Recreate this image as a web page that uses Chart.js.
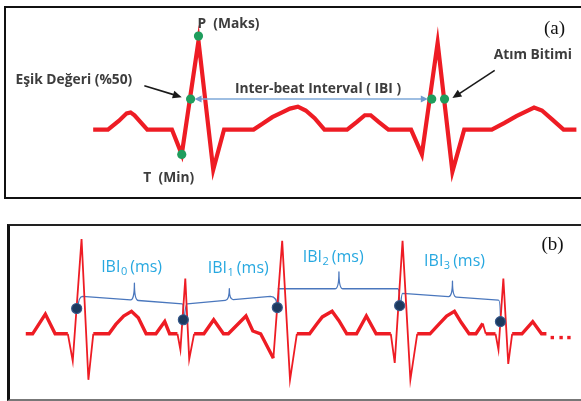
<!DOCTYPE html>
<html><head><meta charset="utf-8">
<script src="https://cdn.jsdelivr.net/npm/chart.js@4/dist/chart.umd.min.js"></script>
<style>
html,body{margin:0;padding:0;background:#fff;width:581px;height:401px;overflow:hidden;position:relative}
#frameA{position:absolute;left:4px;top:6px;width:640px;height:193px;border:2px solid #111;box-sizing:border-box}
#frameB{position:absolute;left:7px;top:224px;width:640px;height:177px;border-top:2px solid #222;border-left:3px solid #111;border-bottom:2px solid #777;box-sizing:border-box}
canvas{position:absolute;left:0}
#cA{top:0}
#cB{top:200px}
</style></head><body>
<div id="frameA"></div><div id="frameB"></div>
<canvas id="cA" width="581" height="200"></canvas>
<canvas id="cB" width="581" height="201"></canvas>
<script>
// ---------- Panel (a): one beat cycle (time units, amplitude units) ----------
const ecgA_time = [90,105,116,124,128,132,145,170,180,197,212,223,253,262,272,282,290,298,306,315,325,348,358,366,372,380,390,413,424,440,455,467,495,508,520,530,538,546,556,568,581];
const ecgA_amp  = [0,0,9,17,18,15,0,0,-26,93,-42,0,0,6,13,18,22,24,20,12,0,0,8,15,15,8,0,0,-26,91,-44,0,0,7,14,19,23,20,11,0,0];
// markers: P (max), threshold (50%), T (min), threshold of next beat, beat end
const markA_time = [197,189,180,434,447];
const markA_amp  = [98,32,-26,32,32];

// ---------- Panel (b): several beats ----------
const ecgB_time = [20,27,40,50,63,68,77,84,89,105,112,120,128,135,143,153,162,167,175,178,183,187,192,202,212,222,227,245,252,260,273,282,290,297,310,317,323,333,340,348,358,368,378,393,397,405,413,420,433,442,450,458,465,473,480,487,490,500,503,508,513,517,527,538,547,552];
const ecgB_amp  = [0,0,21,0,0,-29,101,-49,0,0,10,19,24,17,0,0,13,0,0,-17,59,-27,0,0,15,0,0,19,3,0,-26,99,-49,0,0,10,18,24,14,0,0,19,0,0,-31,99,-49,0,0,10,19,24,12,0,0,11,0,0,-17,59,-32,0,0,13,0,0];
const beatB_time = [72,181,277,402,505];
const beatB_amp  = [27,15,28,30,13];
const moreB_time = [558,567,575];
const moreB_amp  = [-4,-4,-4];
// IBI braces between consecutive beat markers
const ibiSub = ['0','1','2','3'];
const braceStart_time = [78,185,278,405];
const braceStart_amp  = [40,32,48,43];
const braceEnd_time   = [180,270,400,503];
const braceEnd_amp    = [32,40,48,36];
const braceTip_time   = [131,228,340,456];
const braceTip_amp    = [54,48,66,56];

const zip = (t,a) => t.map((v,i)=>({x:v,y:a[i]}));

// annotation layout (data coordinates)
const annA = {
  texts: [
    {s:'P  (Maks)', t:196, a:106},
    {s:'Eşik Değeri (%50)', t:11, a:48},
    {s:'Inter-beat Interval ( IBI )', t:234, a:38},
    {s:'T  (Min)', t:141, a:-55},
    {s:'Atım Bitimi', t:497, a:74}
  ],
  panel: {s:'(a)', t:548, a:100},
  ibiArrow: {t1:193, t2:430, a:32},
  arrows: [ {t1:142,a1:46,t2:180,a2:34}, {t1:498,a1:62,t2:455,a2:33} ]
};
const annB = {
  labels: [ {t:97,a:66}, {t:206,a:65}, {t:303,a:77}, {t:427,a:72} ],
  panel: {s:'(b)', t:547, a:89}
};

function baseOptions(ymin, ymax){
  return {
    responsive:false, animation:false, devicePixelRatio:1, events:[],
    layout:{padding:0},
    plugins:{legend:{display:false}, tooltip:{enabled:false}},
    scales:{
      x:{type:'linear', min:0, max:581, display:false},
      y:{type:'linear', min:ymin, max:ymax, display:false}
    }
  };
}

function arrowHead(ctx, x1,y1,x2,y2, len, half){
  const ang = Math.atan2(y2-y1, x2-x1);
  const bx = x2 - len*Math.cos(ang), by = y2 - len*Math.sin(ang);
  ctx.beginPath();
  ctx.moveTo(x2,y2);
  ctx.lineTo(bx + half*Math.sin(ang), by - half*Math.cos(ang));
  ctx.lineTo(bx - half*Math.sin(ang), by + half*Math.cos(ang));
  ctx.closePath(); ctx.fill();
}

const pluginA = {
  id:'annA',
  afterDatasetsDraw(chart){
    const ctx = chart.ctx, X = chart.scales.x, Y = chart.scales.y;
    ctx.save();
    // IBI double arrow
    const ia = annA.ibiArrow;
    const ax1 = X.getPixelForValue(ia.t1), ax2 = X.getPixelForValue(ia.t2), ay = Y.getPixelForValue(ia.a);
    ctx.strokeStyle = '#7ea8d8'; ctx.fillStyle = '#6f9ccf'; ctx.lineWidth = 1.5;
    ctx.beginPath(); ctx.moveTo(ax1+5, ay); ctx.lineTo(ax2-5, ay); ctx.stroke();
    arrowHead(ctx, ax2, ay, ax1, ay, 7, 3.5);
    arrowHead(ctx, ax1, ay, ax2, ay, 7, 3.5);
    // black pointer arrows
    ctx.strokeStyle = '#1a1a1a'; ctx.fillStyle = '#1a1a1a'; ctx.lineWidth = 1.6;
    annA.arrows.forEach(a=>{
      const x1=X.getPixelForValue(a.t1), y1=Y.getPixelForValue(a.a1), x2=X.getPixelForValue(a.t2), y2=Y.getPixelForValue(a.a2);
      const ang=Math.atan2(y2-y1,x2-x1);
      ctx.beginPath(); ctx.moveTo(x1,y1); ctx.lineTo(x2-6*Math.cos(ang), y2-6*Math.sin(ang)); ctx.stroke();
      arrowHead(ctx, x1,y1,x2,y2, 9, 4);
    });
    // labels
    ctx.fillStyle = '#3d3d3d';
    ctx.font = 'bold 13.8px "Open Sans"';
    ctx.textAlign = 'left'; ctx.textBaseline = 'alphabetic';
    annA.texts.forEach(t=> ctx.fillText(t.s, X.getPixelForValue(t.t), Y.getPixelForValue(t.a)));
    ctx.fillStyle = '#111';
    ctx.font = '19px "Liberation Serif"';
    ctx.fillText(annA.panel.s, X.getPixelForValue(annA.panel.t), Y.getPixelForValue(annA.panel.a));
    ctx.restore();
  }
};

const pluginB = {
  id:'annB',
  beforeDatasetsDraw(chart){
    const ctx = chart.ctx, X = chart.scales.x, Y = chart.scales.y;
    ctx.save();
    ctx.strokeStyle = '#4a77bd'; ctx.lineWidth = 1.3; ctx.lineJoin='round';
    for (let i=0;i<braceTip_time.length;i++){
      const d0x = X.getPixelForValue(beatB_time[i]), d0y = Y.getPixelForValue(beatB_amp[i]);
      const d1x = X.getPixelForValue(beatB_time[i+1]), d1y = Y.getPixelForValue(beatB_amp[i+1]);
      const sx = X.getPixelForValue(braceStart_time[i]), sy = Y.getPixelForValue(braceStart_amp[i]);
      const ex = X.getPixelForValue(braceEnd_time[i]), ey = Y.getPixelForValue(braceEnd_amp[i]);
      const tx = X.getPixelForValue(braceTip_time[i]), ty = Y.getPixelForValue(braceTip_amp[i]);
      const f = (tx - sx)/(ex - sx);
      const my = sy + (ey - sy)*f;
      ctx.beginPath();
      ctx.moveTo(d0x+1, d0y);
      ctx.quadraticCurveTo(d0x+2, sy, sx, sy);
      ctx.lineTo(tx-4, my + (ey-sy)*(-4/(ex-sx)));
      ctx.quadraticCurveTo(tx, my, tx, ty);
      ctx.quadraticCurveTo(tx, my, tx+4, my + (ey-sy)*(4/(ex-sx)));
      ctx.lineTo(ex, ey);
      ctx.quadraticCurveTo(d1x, ey, d1x, d1y);
      ctx.stroke();
    }
    ctx.restore();
  },
  afterDatasetsDraw(chart){
    const ctx = chart.ctx, X = chart.scales.x, Y = chart.scales.y;
    ctx.save();
    ctx.fillStyle = '#27a8e0'; ctx.textAlign='left'; ctx.textBaseline='alphabetic';
    annB.labels.forEach((l,i)=>{
      let x = X.getPixelForValue(l.t); const y = Y.getPixelForValue(l.a);
      ctx.font = '16px "Open Sans"';
      ctx.fillText('IBI', x, y); x += ctx.measureText('IBI').width + 0.5;
      ctx.font = '11px "Open Sans"';
      ctx.fillText(ibiSub[i], x, y+3); x += ctx.measureText(ibiSub[i]).width + 3;
      ctx.font = '16px "Open Sans"';
      ctx.fillText('(ms)', x, y);
    });
    ctx.fillStyle = '#111';
    ctx.font = '19px "Liberation Serif"';
    ctx.fillText(annB.panel.s, X.getPixelForValue(annB.panel.t), Y.getPixelForValue(annB.panel.a));
    ctx.restore();
  }
};

const RED = '#ee1c24';

const chartA = new Chart(document.getElementById('cA'), {
  type:'scatter',
  data:{ datasets:[
    { data: zip(markA_time, markA_amp), pointRadius:4.6, pointBackgroundColor:'#1f9d5d', pointBorderWidth:0, showLine:false, order:1, clip:false },
    { data: zip(ecgA_time, ecgA_amp), showLine:true, borderColor:RED, borderWidth:4.2, pointRadius:0, tension:0, borderJoinStyle:'miter', order:2, clip:false }
  ]},
  options: baseOptions(-69, 131),
  plugins:[pluginA]
});

const chartB = new Chart(document.getElementById('cB'), {
  type:'scatter',
  data:{ datasets:[
    { data: zip(beatB_time, beatB_amp), pointRadius:5, pointBackgroundColor:'#1d3a5f', pointBorderColor:'#36588a', pointBorderWidth:1.2, showLine:false, order:1, clip:false },
    { data: zip(moreB_time, moreB_amp), pointStyle:'rect', pointRadius:2.4, pointBackgroundColor:RED, pointBorderWidth:0, showLine:false, order:1, clip:false },
    { data: zip(ecgB_time, ecgB_amp), showLine:true, borderColor:RED, borderWidth:3, pointRadius:0, tension:0, order:2, clip:false,
      borderJoinStyle:'miter',
      segment:{ borderWidth: c => {
        const dx = Math.abs(c.p1.x - c.p0.x), dy = Math.abs(c.p1.y - c.p0.y);
        return dy > 2.5*dx ? 1.8 : 3.4;
      }}
    }
  ]},
  options: baseOptions(-65, 136),
  plugins:[pluginB]
});

if (document.fonts && document.fonts.load) {
  Promise.all([
    document.fonts.load('bold 13.8px "Open Sans"'),
    document.fonts.load('16px "Open Sans"'),
    document.fonts.load('19px "Liberation Serif"')
  ]).then(()=>{ chartA.draw(); chartB.draw(); }).catch(()=>{});
}
</script></body></html>
